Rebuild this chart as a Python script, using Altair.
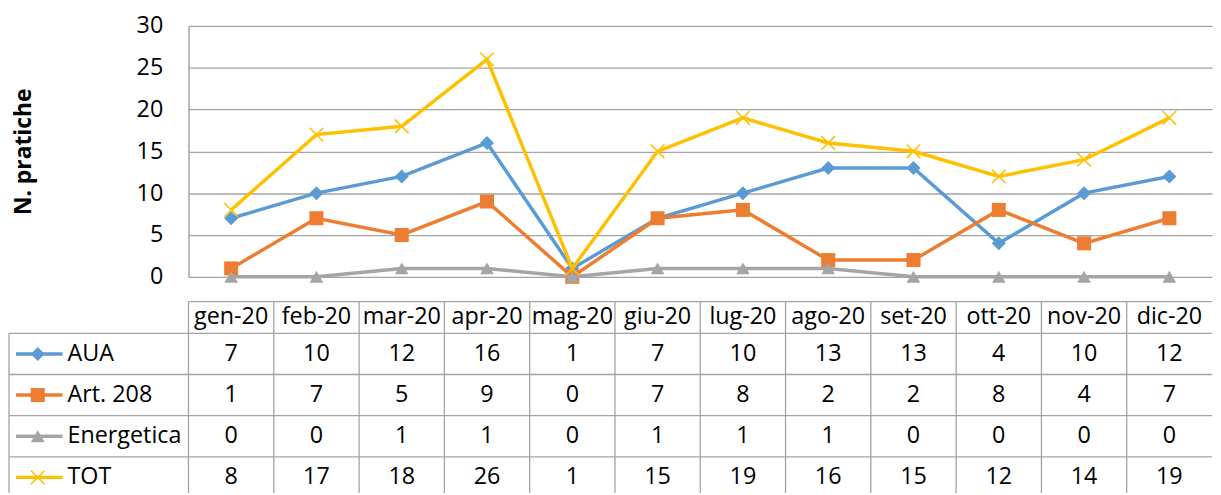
import altair as alt
import pandas as pd

# ---- data ----
months = ["gen-20", "feb-20", "mar-20", "apr-20", "mag-20", "giu-20",
          "lug-20", "ago-20", "set-20", "ott-20", "nov-20", "dic-20"]
series_names = ["AUA", "Art. 208", "Energetica", "TOT"]
aua = [7, 10, 12, 16, 1, 7, 10, 13, 13, 4, 10, 12]
art208 = [1, 7, 5, 9, 0, 7, 8, 2, 2, 8, 4, 7]
energetica = [0, 0, 1, 1, 0, 1, 1, 1, 0, 0, 0, 0]
tot = [8, 17, 18, 26, 1, 15, 19, 16, 15, 12, 14, 19]
y_ticks = [0, 5, 10, 15, 20, 25, 30]

# ---- styles ----
colors = ["#5B9BD5", "#ED7D31", "#A5A5A5", "#FFC000"]
X_PATH = "M-1,-1L1,1M-1,1L1,-1"
shapes = ["diamond", "square", "triangle-up", X_PATH]
sizes = [200, 200, 190, 190]
FONT = "Open Sans"
FS = 23.5
TXT = "#000000"
GRID = "#A3A3A3"

W = 1032      # plot width
L = 181       # left label column width
H1 = 253      # line plot height
HH = 32       # header row height
ROW = 41.5    # data row height
HT = 161      # visible table height

vals = {"AUA": aua, "Art. 208": art208, "Energetica": energetica, "TOT": tot}
df = pd.DataFrame([
    {"month": m, "series": s, "value": v}
    for s in series_names for m, v in zip(months, vals[s])
])
ser_df = pd.DataFrame({"series": series_names})
mon_df = pd.DataFrame({"month": months})
one_df = pd.DataFrame({"k": [0]})

color_scale = alt.Scale(domain=series_names, range=colors)
shape_scale = alt.Scale(domain=series_names, range=shapes)
color_enc = alt.Color("series:N", scale=color_scale, legend=None)
shape_enc = alt.Shape("series:N", scale=shape_scale, legend=None)

# ---- line chart ----
x_line = alt.X("month:N", scale=alt.Scale(type="point", domain=months, padding=0.5), axis=None)
y_line = alt.Y(
    "value:Q",
    scale=alt.Scale(domain=[0, 30], nice=False),
    axis=alt.Axis(
        values=y_ticks, title="N. pratiche", grid=True, gridColor=GRID, gridWidth=1.3,
        ticks=False, domain=True, domainColor=GRID, domainWidth=1.5,
        labelFont=FONT, labelFontSize=FS, labelColor=TXT, labelPadding=26,
        titleFont=FONT, titleFontSize=23, titleFontWeight="bold", titleColor=TXT,
        titleAngle=270, titleX=-166, titleY=H1 / 2, titleAlign="center",
        titleBaseline="middle",
    ),
)

layers = []
for i, s in enumerate(series_names):
    base = alt.Chart(df).transform_filter(alt.datum.series == s)
    layers.append(base.mark_line(strokeWidth=3.5).encode(x=x_line, y=y_line, color=color_enc))
    if s == "TOT":
        pm = base.mark_point(filled=False, size=sizes[i], strokeWidth=1.6, opacity=1)
    else:
        pm = base.mark_point(filled=True, size=sizes[i], opacity=1)
    layers.append(pm.encode(x=x_line, y=y_line, color=color_enc, shape=shape_enc))

line_chart = alt.layer(*layers).properties(width=W, height=H1)

# ---- data table ----
band = alt.Scale(type="band", domain=months, paddingInner=0, paddingOuter=0)
x_mid = alt.X("month:N", scale=band, axis=None, bandPosition=0.5)
x_start = alt.X("month:N", scale=band, axis=None, bandPosition=0)

hdr_text = alt.Chart(mon_df).mark_text(font=FONT, fontSize=FS, color=TXT, baseline="middle").encode(
    x=x_mid, y=alt.value(HH / 2), text="month:N")
hdr_vlines = alt.Chart(mon_df).mark_rule(color=GRID, strokeWidth=1.3).encode(
    x=x_start, y=alt.value(0), y2=alt.value(HH))
hdr_top = alt.Chart(one_df).mark_rule(color=GRID, strokeWidth=1.3).encode(
    x=alt.value(0), x2=alt.value(W), y=alt.value(0))
header = alt.layer(hdr_vlines, hdr_top, hdr_text).properties(width=W, height=HH)

rows_scale = alt.Scale(type="band", domain=series_names, range=[0, 4 * ROW], paddingInner=0, paddingOuter=0)
y_mid = alt.Y("series:N", scale=rows_scale, axis=None, bandPosition=0.5)
y_top = alt.Y("series:N", scale=rows_scale, axis=None, bandPosition=0)

cells = alt.Chart(df).mark_text(font=FONT, fontSize=FS, color=TXT, baseline="middle").encode(
    x=x_mid, y=y_mid, text="value:Q")
hlines = alt.Chart(ser_df).mark_rule(color=GRID, strokeWidth=1.3).encode(
    y=y_top, x=alt.value(-L), x2=alt.value(W))
vlines = alt.Chart(mon_df).mark_rule(color=GRID, strokeWidth=1.3).encode(
    x=x_start, y=alt.value(0), y2=alt.value(HT))
left_border = alt.Chart(one_df).mark_rule(color=GRID, strokeWidth=1.3).encode(
    x=alt.value(-L), y=alt.value(0), y2=alt.value(HT))
leg_lines = alt.Chart(ser_df).mark_rule(strokeWidth=3.5).encode(
    y=y_mid, x=alt.value(-L + 7), x2=alt.value(-127), color=color_enc)
leg_pts_f = alt.Chart(ser_df).transform_filter(alt.datum.series != "TOT").mark_point(
    filled=True, size=200, opacity=1).encode(
    y=y_mid, x=alt.value(-152), color=color_enc, shape=shape_enc)
leg_pts_x = alt.Chart(ser_df).transform_filter(alt.datum.series == "TOT").mark_point(
    filled=False, size=190, strokeWidth=1.6, opacity=1).encode(
    y=y_mid, x=alt.value(-152), color=color_enc, shape=shape_enc)
names = alt.Chart(ser_df).mark_text(font=FONT, fontSize=FS, color=TXT, align="left", baseline="middle").encode(
    y=y_mid, x=alt.value(-122), text="series:N")

table = alt.layer(hlines, vlines, left_border, leg_lines, leg_pts_f, leg_pts_x, names, cells).properties(
    width=W, height=HT)

table_block = alt.vconcat(header, table, spacing=0, bounds="flush")

chart = alt.vconcat(line_chart, table_block, spacing=25, bounds="flush").properties(
    padding={"left": 0, "top": 4, "right": 0, "bottom": 0}
).configure_view(stroke=None).resolve_scale(color="shared", shape="shared")

chart.save("out.html", embed_options={"renderer": "svg", "actions": False})
